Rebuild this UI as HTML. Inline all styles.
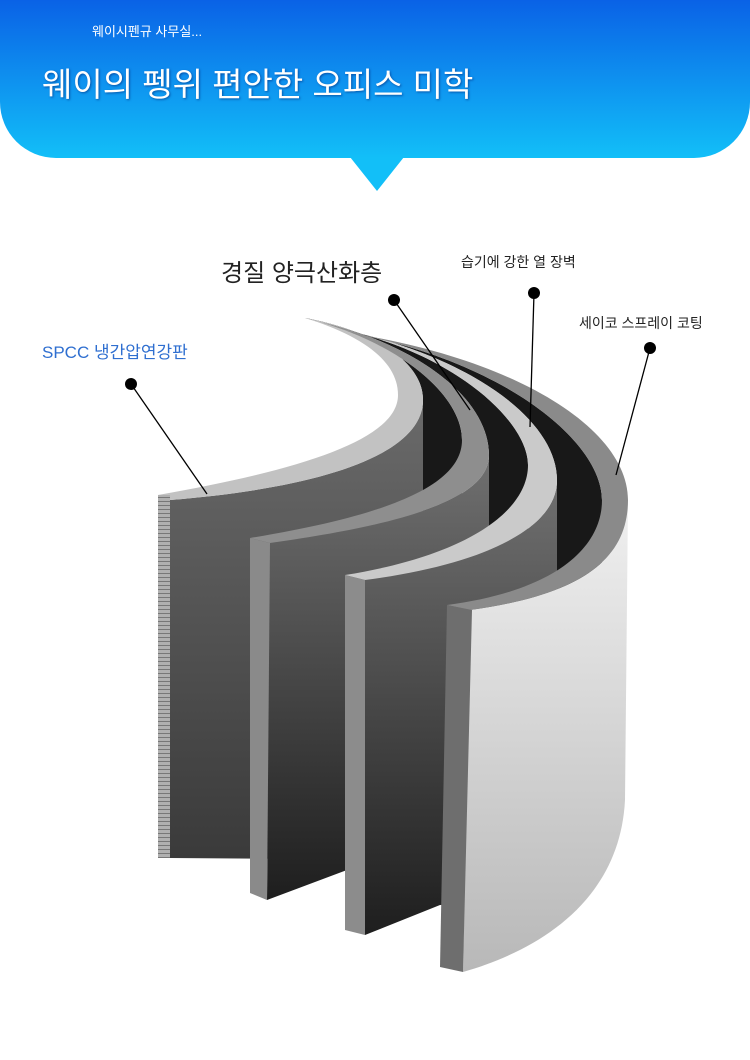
<!DOCTYPE html>
<html><head><meta charset="utf-8">
<style>
html,body{margin:0;padding:0;background:#fff;}
body{width:750px;height:1060px;position:relative;overflow:hidden;font-family:"Liberation Sans","Noto Sans CJK KR",sans-serif;}
.hdr{position:absolute;left:0;top:0;width:750px;height:158px;border-radius:0 0 56px 56px;background:linear-gradient(#0a62e6,#12bff8);}
.tri{position:absolute;left:350px;top:157px;width:0;height:0;border-left:27px solid transparent;border-right:27px solid transparent;border-top:34px solid #12bff8;}
.t{position:absolute;white-space:nowrap;}
</style></head><body>
<div class="hdr"></div><div class="tri"></div>
<div class="t" style="left:92px;top:21px;font-size:13px;color:#fff;">웨이시펜규 사무실...</div>
<div class="t" style="left:42px;top:58px;font-size:33px;color:#fff;text-shadow:1px 1px 2px rgba(0,40,120,.6);">웨이의 펭위 편안한 오피스 미학</div>

<div class="t" style="left:221px;top:253px;font-size:24px;color:#222;">경질 양극산화층</div>
<div class="t" style="left:461px;top:252px;font-size:14px;color:#222;">습기에 강한 열 장벽</div>
<div class="t" style="left:579px;top:313px;font-size:14px;color:#222;">세이코 스프레이 코팅</div>
<div class="t" style="left:42px;top:338px;font-size:17px;color:#2f6fd0;">SPCC 냉간압연강판</div>

<svg width="750" height="1060" style="position:absolute;left:0;top:0" xmlns="http://www.w3.org/2000/svg">
<defs>
<linearGradient id="f1" x1="0" y1="0" x2="0" y2="1"><stop offset="0" stop-color="#6a6a6a"/><stop offset="1" stop-color="#3a3a3a"/></linearGradient>
<linearGradient id="f2" x1="0" y1="0" x2="0" y2="1"><stop offset="0" stop-color="#707070"/><stop offset="1" stop-color="#1e1e1e"/></linearGradient>
<linearGradient id="f4" x1="0" y1="0" x2="0" y2="1"><stop offset="0" stop-color="#f0f0f0"/><stop offset="1" stop-color="#b8b8b8"/></linearGradient>
<pattern id="st" width="12" height="4" patternUnits="userSpaceOnUse"><rect width="12" height="4" fill="#b0b0b0"/><rect y="1" width="12" height="1" fill="#777"/></pattern>
</defs>
<!-- black inner faces (gaps) -->
<path d="M320,322 C400,345 462,395 462,440 L462,860 L423,860 L423,400 C423,360 370,330 305,318 Z" fill="#181818"/>
<path d="M335,328 C450,350 528,420 528,465 L528,885 L489,885 L489,455 C489,400 420,345 320,322 Z" fill="#181818"/>
<path d="M350,333 C500,360 602,440 602,500 L602,850 L557,850 L557,480 C557,420 470,355 335,328 Z" fill="#181818"/>

<!-- Layer 1 -->
<path d="M170,500 C320,488 423,455 423,400 L423,860 L170,858 Z" fill="url(#f1)"/>
<path d="M158,495 C300,470 398,440 398,395 C398,360 360,335 305,318 C370,330 423,360 423,400 C423,455 320,488 170,500 Z" fill="#c2c2c2"/>
<rect x="158" y="495" width="12" height="363" fill="url(#st)"/>
<!-- Layer 2 -->
<path d="M270,543 C400,525 489,500 489,455 L489,880 L347,870 L267,900 Z" fill="url(#f2)"/>
<path d="M250,538 C390,515 462,485 462,440 C462,395 400,345 320,322 C420,345 489,400 489,455 C489,500 400,525 270,543 Z" fill="#8e8e8e"/>
<path d="M250,538 L270,543 L267,900 L250,893 Z" fill="#8a8a8a"/>
<!-- Layer 3 -->
<path d="M365,580 C480,565 557,530 557,480 L557,900 L440,905 L365,935 Z" fill="url(#f2)"/>
<path d="M345,575 C470,555 528,510 528,465 C528,420 450,350 335,328 C470,355 557,420 557,480 C557,530 480,565 365,580 Z" fill="#cacaca"/>
<path d="M345,575 L365,580 L365,935 L345,930 Z" fill="#8c8c8c"/>
<!-- Layer 4 -->
<path d="M470,610 C580,595 628,560 628,500 L625,800 C620,900 540,950 463,972 Z" fill="url(#f4)"/>
<path d="M447,605 C560,590 602,545 602,500 C602,440 500,360 350,333 C520,360 628,430 628,500 C628,560 580,595 470,610 Z" fill="#8a8a8a"/>
<path d="M447,605 L472,610 L463,972 L440,967 Z" fill="#6e6e6e"/>
<!-- leaders -->
<g stroke="#000" stroke-width="1.3">
<line x1="131" y1="384" x2="207" y2="494"/>
<line x1="394" y1="300" x2="470" y2="410"/>
<line x1="534" y1="293" x2="530" y2="427"/>
<line x1="650" y1="348" x2="616" y2="475"/>
</g>
<g fill="#000">
<circle cx="131" cy="384" r="6"/><circle cx="394" cy="300" r="6"/><circle cx="534" cy="293" r="6"/><circle cx="650" cy="348" r="6"/>
</g>
</svg>
</body></html>
